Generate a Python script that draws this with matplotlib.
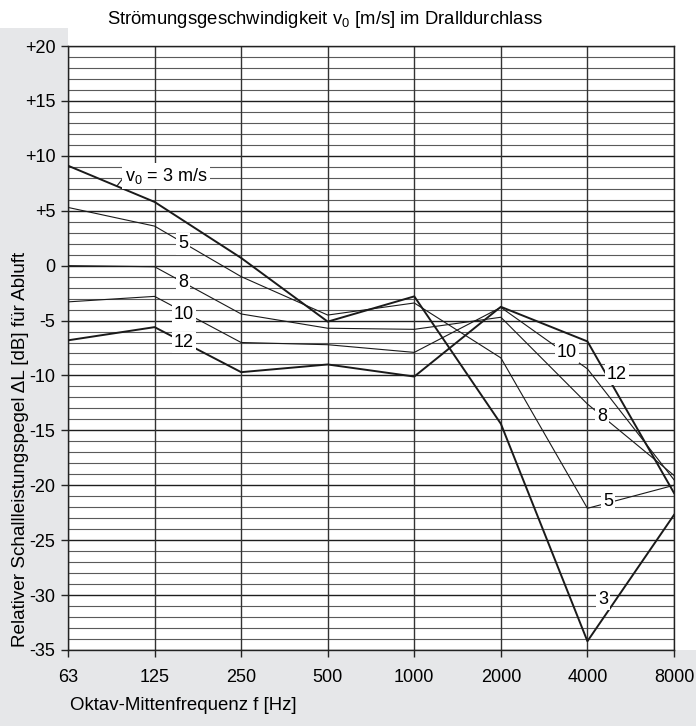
import numpy as np
import matplotlib.pyplot as plt
from matplotlib.patches import Rectangle

plt.rcParams['font.family'] = ['Liberation Sans', 'DejaVu Sans']
plt.rcParams['mathtext.fontset'] = 'custom'
plt.rcParams['mathtext.rm'] = 'Liberation Sans'
plt.rcParams['mathtext.it'] = 'Liberation Sans'

freqs = ['63', '125', '250', '500', '1000', '2000', '4000', '8000']
v3 = [9.1, 5.8, 0.7, -5.1, -2.8, -14.4, -34.2, -22.7]
v5 = [5.3, 3.6, -1.0, -4.5, -3.4, -8.4, -22.1, -20.0]
v8 = [0.0, -0.1, -4.4, -5.7, -5.8, -4.7, -12.6, -19.1]
v10 = [-3.3, -2.8, -7.0, -7.2, -7.9, -3.8, -9.4, -19.5]
v12 = [-6.8, -5.6, -9.7, -9.0, -10.1, -3.75, -6.9, -20.7]
yticks = [20, 15, 10, 5, 0, -5, -10, -15, -20, -25, -30, -35]
ytick_labels = ['+20', '+15', '+10', '+5', '0', '-5', '-10', '-15', '-20', '-25', '-30', '-35']

W, H = 696, 726
fig = plt.figure(figsize=(W / 100, H / 100), dpi=100)
grey = '#e6e7e9'
fig.patches.append(Rectangle((0, 0), 68 / W, (H - 28) / H, transform=fig.transFigure,
                             facecolor=grey, edgecolor='none', zorder=-5))
fig.patches.append(Rectangle((0, 0), 1, (H - 650) / H, transform=fig.transFigure,
                             facecolor=grey, edgecolor='none', zorder=-5))

ax = fig.add_axes([68 / W, (H - 650) / H, (674 - 68) / W, (650 - 46) / H])
ax.set_facecolor('white')
x = np.arange(len(freqs))

# grid
for v in range(-35, 21):
    if v % 5 == 0:
        ax.axhline(v, color='#1e1e1e', lw=1.0, zorder=1)
    else:
        ax.axhline(v, color='#5a5a5a', lw=0.8, zorder=1)
for i in x:
    ax.axvline(i, color='#333333', lw=1.0, zorder=1)

line_col = '#1a1a1a'
ax.plot(x, v3, color=line_col, lw=1.4, zorder=3)
ax.plot(x, v5, color=line_col, lw=0.8, zorder=3)
ax.plot(x, v8, color=line_col, lw=0.8, zorder=3)
ax.plot(x, v10, color=line_col, lw=0.8, zorder=3)
ax.plot(x, v12, color=line_col, lw=1.4, zorder=3)

box = dict(facecolor='white', edgecolor='none', pad=1.5)
fs = 13


def label(px, py, s):
    # pixel position of the reference -> data coordinates
    xd = (px - 68) / (674 - 68) * 7
    yd = 20 - (py - 46) / 10.99
    ax.text(xd, yd, s, ha='center', va='center', fontsize=fs, bbox=box, zorder=5)


label(183, 244, '5')
label(183, 283, '8')
label(184, 315, '10')
label(184, 343, '12')
label(567, 353, '10')
label(617, 375, '12')
label(602, 417, '8')
label(608, 502, '5')
label(603, 600, '3')

# v0 label with leader
xv = (166 - 68) / 606 * 7
ax.text(xv, 20 - (176 - 46) / 10.99, r'v$_\mathrm{0}$ = 3 m/s', ha='center', va='center',
        fontsize=fs, bbox=dict(facecolor='white', edgecolor='none', pad=2), zorder=5)
ax.plot([(117 - 68) / 606 * 7, (124 - 68) / 606 * 7],
        [20 - (186 - 46) / 10.99, 20 - (177 - 46) / 10.99], color=line_col, lw=0.8, zorder=4)

ax.set_xlim(0, 7)
ax.set_ylim(-35, 20)
ax.set_xticks(x)
ax.set_xticklabels(freqs, fontsize=13)
ax.set_yticks(yticks)
ax.set_yticklabels(ytick_labels, fontsize=13)
ax.tick_params(direction='out', length=5, width=1, color='#222222', pad=4)
ax.tick_params(axis='x', pad=9)
for s in ax.spines.values():
    s.set_color('#222222')
    s.set_linewidth(1.0)

fig.text(325 / W, 1 - 20 / H, r'Strömungsgeschwindigkeit v$_\mathrm{0}$ [m/s] im Dralldurchlass',
         ha='center', va='center', fontsize=13.3)
fig.text(70 / W, 1 - 706 / H, 'Oktav-Mittenfrequenz f [Hz]', ha='left', va='center', fontsize=13.4)
fig.text(21 / W, 1 - 449 / H, 'Relativer Schallleistungspegel ΔL [dB] für Abluft',
         ha='center', va='center', rotation=90, fontsize=13.6)

fig.savefig('out.png', dpi=100)
